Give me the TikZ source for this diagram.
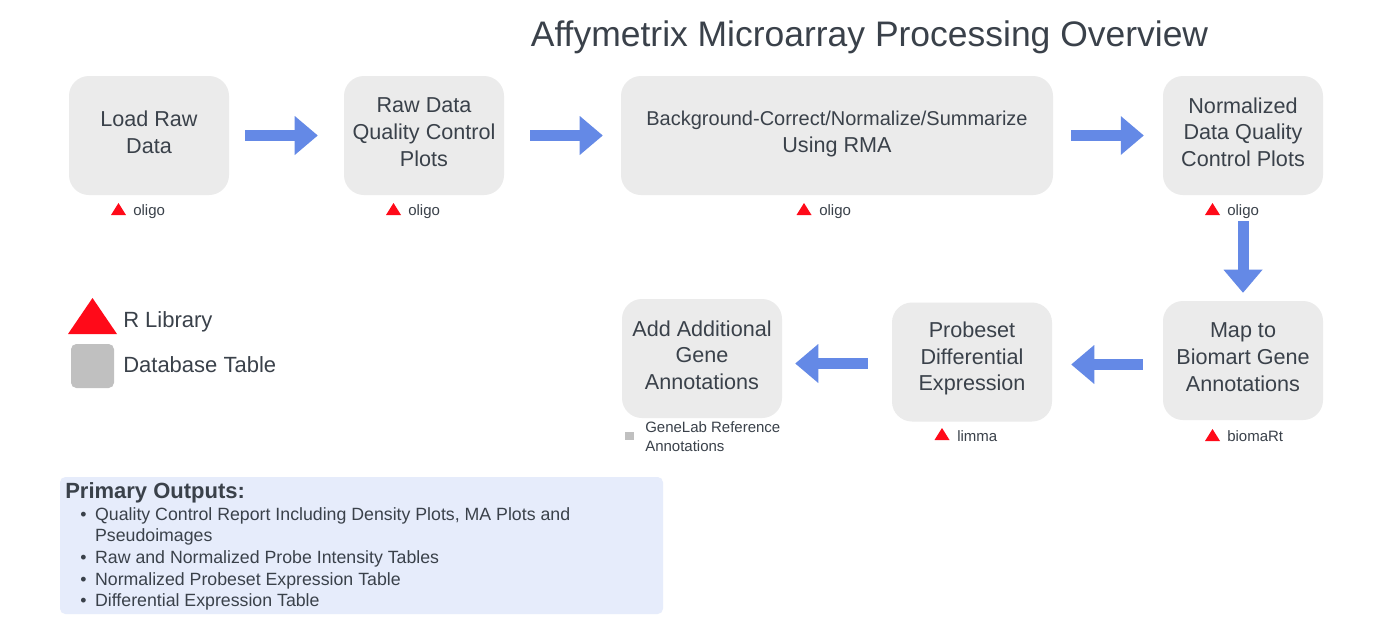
\documentclass[tikz,border=0pt]{standalone}
\usepackage{fontspec}
\setmainfont{Liberation Sans}
\usetikzlibrary{arrows.meta, calc}

\definecolor{txtgray}{HTML}{3A414A}
\definecolor{boxgray}{HTML}{EBEBEB}
\definecolor{flowblue}{HTML}{6489E6}
\definecolor{libred}{HTML}{FF0A19}
\definecolor{dbgray}{HTML}{C0C0C0}
\definecolor{outblue}{HTML}{E6ECFB}

\tikzset{
  stepbox/.style={rounded corners=15pt, fill=boxgray, minimum width=120pt,
    minimum height=89.25pt, inner sep=0pt},
  steptxt/.style={align=center, text=txtgray, inner sep=0pt, yshift=2.6pt,
    font=\fontsize{16.2}{20}\selectfont},
  flow/.style={draw=flowblue, line width=8.25pt,
    -{Triangle[length=17.25pt, width=29.25pt, line width=0pt]}},
  libtxt/.style={text=txtgray, anchor=west, inner sep=0pt,
    font=\fontsize{11.25}{14.25}\selectfont},
  legtxt/.style={text=txtgray, anchor=west, inner sep=0pt,
    font=\fontsize{16.5}{20}\selectfont},
  libtri/.pic={\fill[libred] (-7.5,6) -- (7.5,6) -- (0,-6) -- cycle;},
}

\begin{document}
\begin{tikzpicture}[x=0.75pt, y=-0.75pt]
    \useasboundingbox[fill=white] (0,0) rectangle (1383,632);

    % Title
    \node[text=txtgray, font=\fontsize{26.6}{30}\selectfont] (title) at (869.5,37.5)
        {Affymetrix Microarray Processing Overview};

    % Processing steps
    \node[stepbox, label={[steptxt]center:{Load Raw\\Data}}] (load) at (149,135.5) {};
    \node[stepbox, label={[steptxt]center:{Raw Data\\Quality Control\\Plots}}] (rawqc) at (424,135.5) {};
    \node[stepbox, minimum width=324pt,
        label={[steptxt, yshift=-1.4pt]center:{{\fontsize{15}{20}\selectfont Background-Correct/Normalize/Summarize}\\Using RMA}}]
        (rma) at (837,135.5) {};
    \node[stepbox, label={[steptxt]center:{Normalized\\Data Quality\\Control Plots}}] (normqc) at (1243,135.5) {};
    \node[stepbox, label={[steptxt]center:{Map to\\Biomart Gene\\Annotations}}] (biomart) at (1243,360.5) {};
    \node[stepbox, label={[steptxt]center:{Probeset\\Differential\\Expression}}] (diffexp) at (972,362) {};
    \node[stepbox, label={[steptxt]center:{Add Additional\\Gene\\Annotations}}] (addannot) at (702,358.5) {};

    % Flow arrows
    \draw[flow] ($(load.east)+(16,0)$) -- ($(rawqc.west)+(-26,0)$);
    \draw[flow] ($(rawqc.east)+(26,0)$) -- ($(rma.west)+(-18,0)$);
    \draw[flow] ($(rma.east)+(18,0)$) -- ($(normqc.west)+(-19,0)$);
    \draw[flow] ($(normqc.south)+(0,26)$) -- ($(biomart.north)+(0,-8)$);
    \draw[flow] ($(biomart.west)+(-20,4)$) -- ($(diffexp.east)+(19,2.5)$);
    \draw[flow] ($(diffexp.west)+(-24,1.5)$) -- ($(addannot.east)+(13,5)$);

    % Tools used by each step
    \pic at (118.5,209) {libtri};
    \node[libtxt] (lib1) at (133,211.5) {oligo};
    \pic at (393.5,209) {libtri};
    \node[libtxt] (lib2) at (408,211.5) {oligo};
    \pic at (804,209) {libtri};
    \node[libtxt] (lib3) at (819,211.5) {oligo};
    \pic at (1212.5,209) {libtri};
    \node[libtxt] (lib4) at (1227,211.5) {oligo};
    \pic at (1212.5,435) {libtri};
    \node[libtxt] (lib5) at (1227,436.5) {biomaRt};
    \pic at (942,434) {libtri};
    \node[libtxt] (lib6) at (957,436) {limma};
    \fill[dbgray] (625,432) rectangle (634,440);
    \node[libtxt, align=left] (genelab) at (645,437) {GeneLab Reference\\Annotations};

    % Legend
    \fill[libred] (68,334) -- (117,334) -- (92.5,298) -- cycle;
    \node[legtxt] (leglib) at (123,322) {R Library};
    \fill[dbgray, rounded corners=4pt] (71,344) rectangle (114,388);
    \node[legtxt] (legdb) at (123,365) {Database Table};

    % Primary outputs
    \fill[outblue, rounded corners=4pt] (60,477) rectangle (663,614);
    \node[text=txtgray, anchor=west, inner sep=0pt, font=\bfseries\fontsize{16.5}{18}\selectfont]
        (outhead) at (65,493) {Primary Outputs:};
    \node[text=txtgray, anchor=north west, inner sep=0pt, font=\fontsize{13.3}{16.2}\selectfont]
        (outlist) at (80,505) {%
        \begin{tabular}{@{}l@{\hspace{6.5pt}}l@{}}
            \textbullet & Quality Control Report Including Density Plots, MA Plots and\\
                        & Pseudoimages\\
            \textbullet & Raw and Normalized Probe Intensity Tables\\
            \textbullet & Normalized Probeset Expression Table\\
            \textbullet & Differential Expression Table
        \end{tabular}};
\end{tikzpicture}
\end{document}
